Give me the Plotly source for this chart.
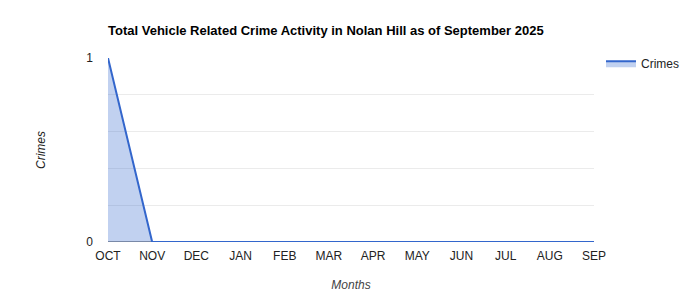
import plotly.graph_objects as go

months = ["OCT", "NOV", "DEC", "JAN", "FEB", "MAR", "APR", "MAY", "JUN", "JUL", "AUG", "SEP"]
crimes = [1, 0, 0, 0, 0, 0, 0, 0, 0, 0, 0, 0]
y_ticks = [0, 1]
y_tick_text = ["0", "1"]

font_family = "Liberation Sans, Arial, sans-serif"

fig = go.Figure()
fig.add_trace(go.Scatter(
    x=months, y=crimes, name="Crimes", mode="lines",
    line=dict(color="#3366cc", width=2),
    fill="tozeroy", fillcolor="rgba(51,102,204,0.3)",
))

fig.update_layout(
    width=700, height=300,
    margin=dict(l=108, r=106, t=58, b=58),
    paper_bgcolor="white", plot_bgcolor="white",
    font=dict(family=font_family, size=12, color="#222222"),
    title=dict(
        text="<b>Total Vehicle Related Crime Activity in Nolan Hill as of September 2025</b>",
        x=108/700, xanchor="left", xref="container",
        y=1 - 30/300, yanchor="middle", yref="container",
        font=dict(family=font_family, size=13, color="#000000"),
    ),
    showlegend=True,
    legend=dict(
        x=1.0144, xanchor="left", y=1.05, yanchor="top",
        xref="paper", yref="paper",
        font=dict(family=font_family, size=12, color="#222222"),
        bgcolor="rgba(0,0,0,0)", itemwidth=30,
    ),
    xaxis=dict(
        type="category", range=[0, len(months) - 1],
        showgrid=False, showline=False, zeroline=False,
        ticks="", ticklabelstandoff=5, tickfont=dict(size=12, color="#222222"),
        title=dict(text="<i>Months</i>", font=dict(size=12, color="#444444"), standoff=18),
        fixedrange=True,
    ),
    yaxis=dict(
        range=[0, 1], tickvals=y_ticks, ticktext=y_tick_text,
        showgrid=True, gridcolor="#cccccc", gridwidth=1,
        minor=dict(dtick=0.2, showgrid=True, gridcolor="#ebebeb", gridwidth=1, ticks=""),
        zeroline=False, showline=False, ticks="", ticklabelstandoff=14,
        tickfont=dict(size=12, color="#222222"),
        title=dict(text="<i>Crimes</i>", font=dict(size=12, color="#222222"), standoff=38),
        fixedrange=True,
    ),
)

fig.add_hline(y=0, line=dict(color="#333333", width=1), layer="below")

fig.write_html("out.html")
